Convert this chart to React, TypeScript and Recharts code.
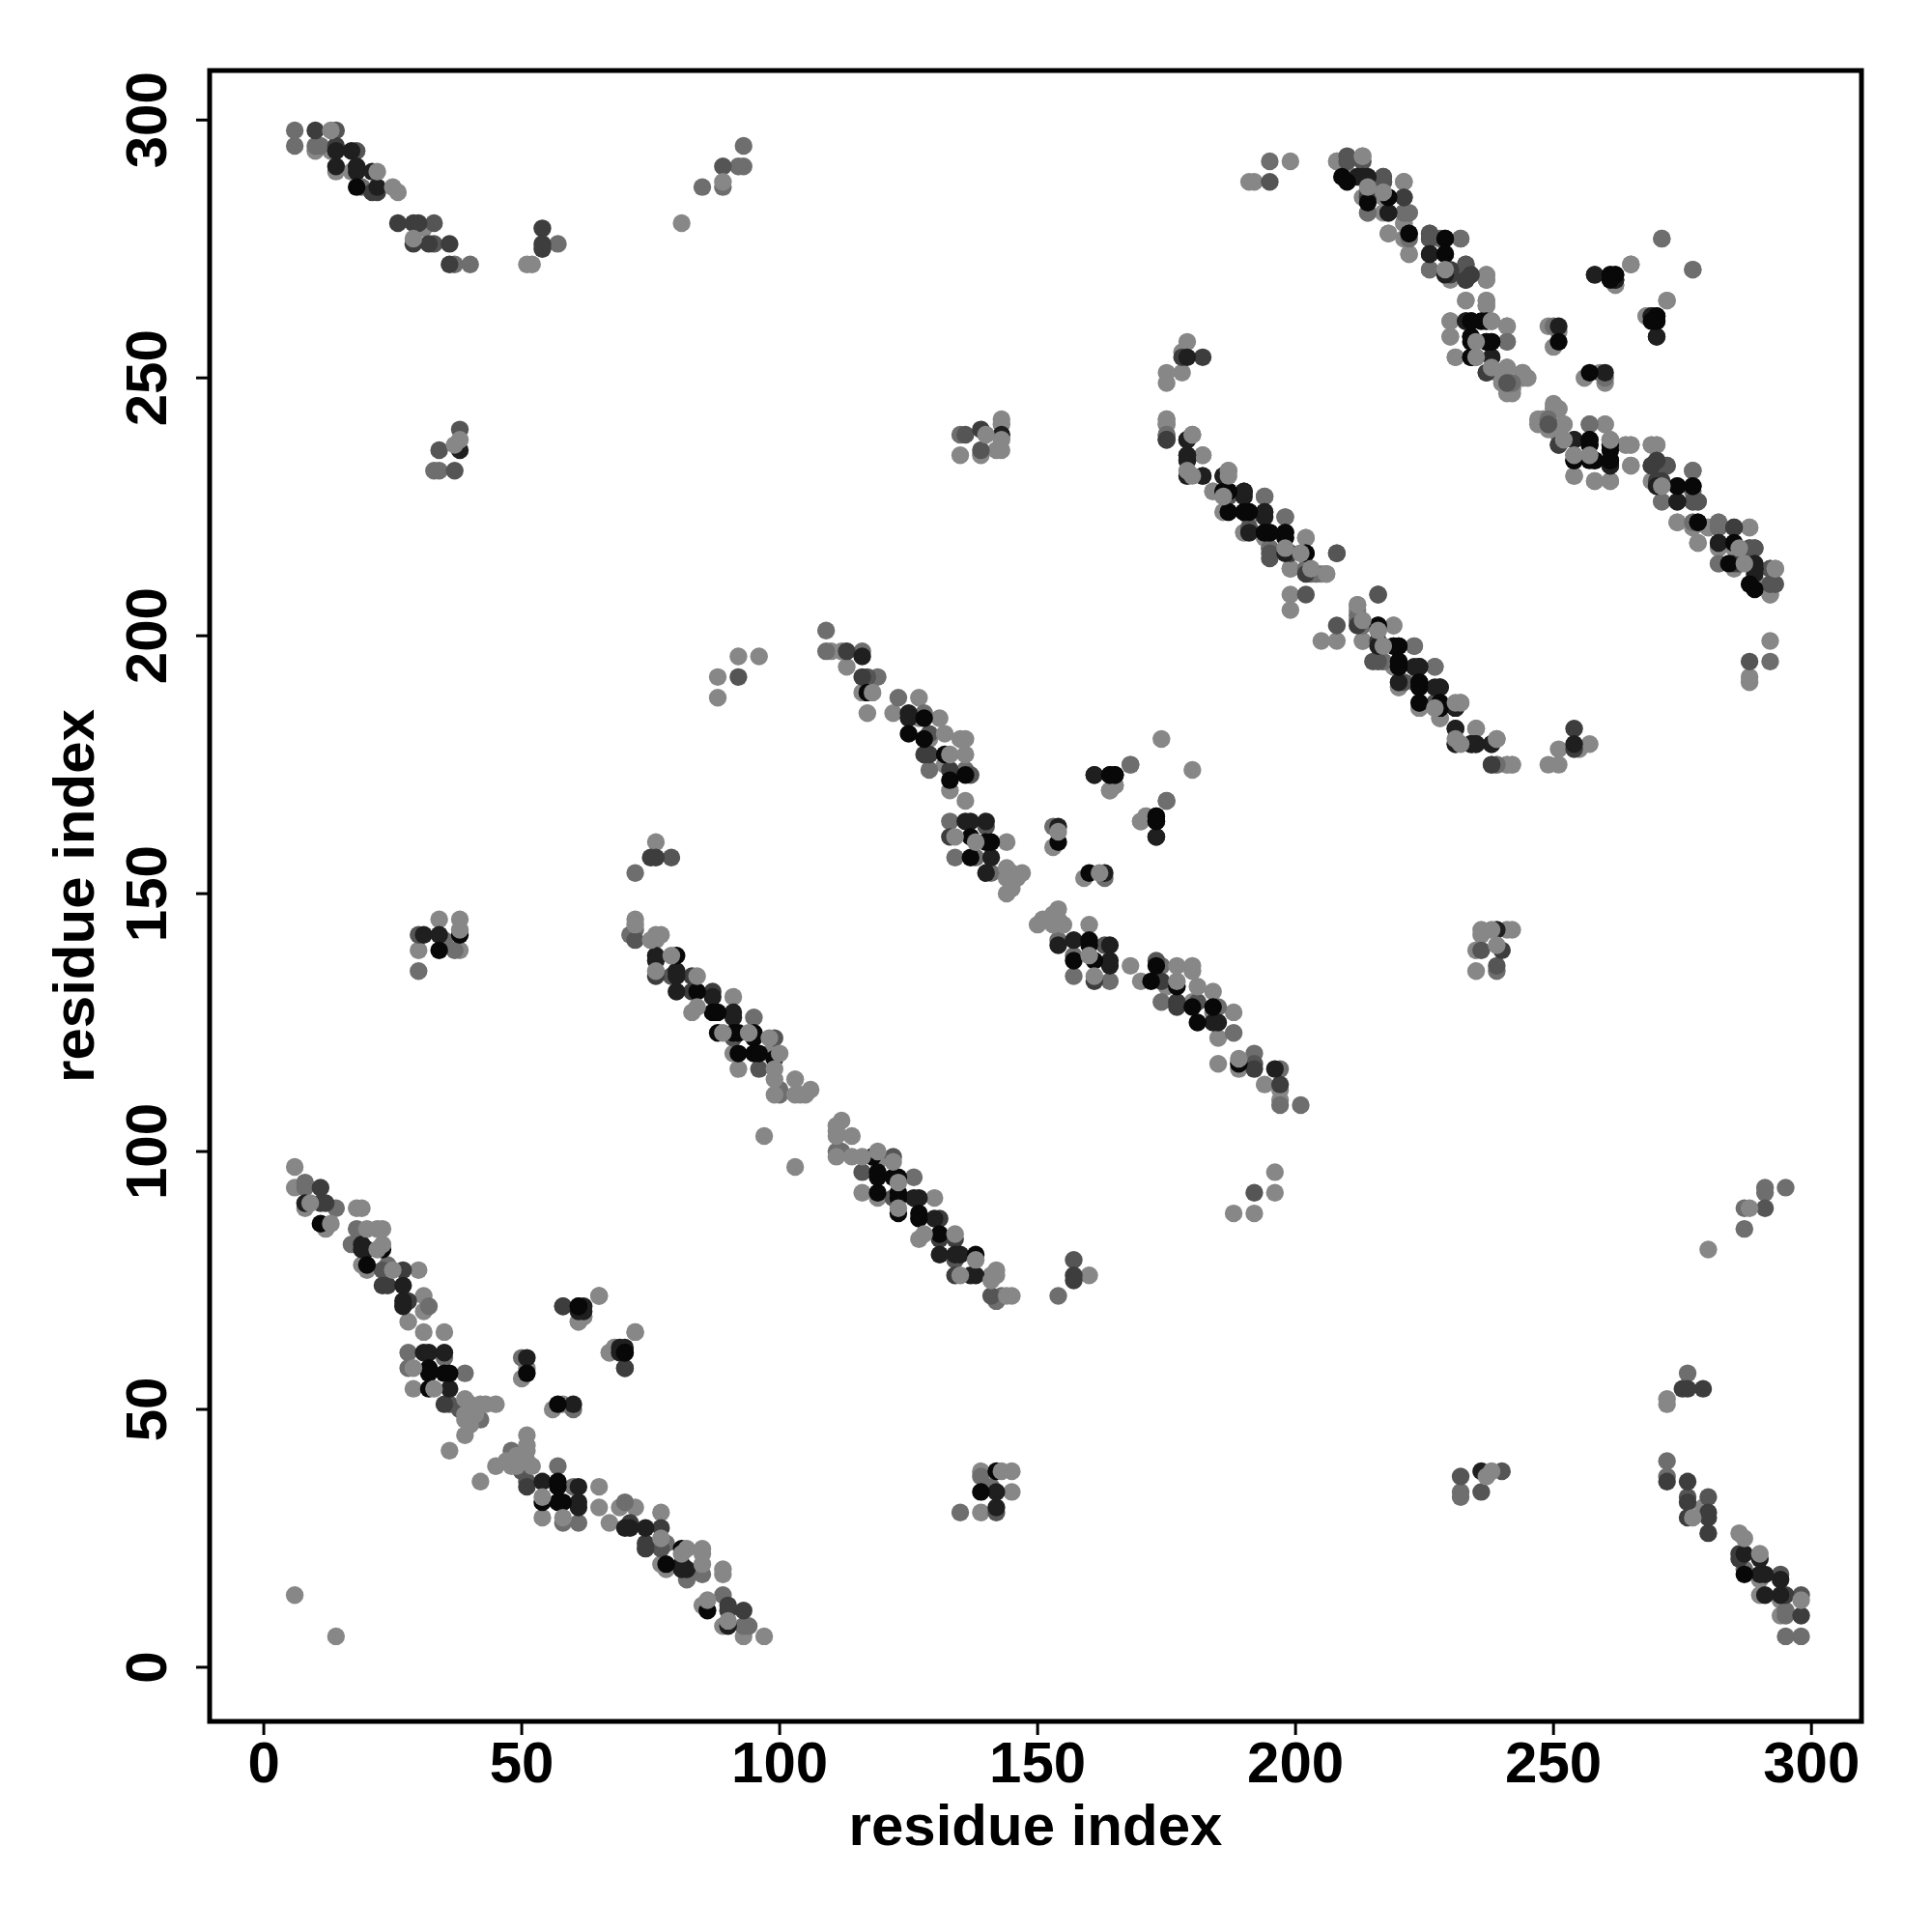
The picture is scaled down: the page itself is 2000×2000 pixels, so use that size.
import { ScatterChart, Scatter, XAxis, YAxis, ReferenceArea } from "recharts";

type Pair = [number, number];

const axisTicks = [0, 50, 100, 150, 200, 250, 300];

const lightUnder: Pair[] = [
  [6, 14], [6, 97], [6, 93], [8, 89], [12, 85], [19, 78], [20, 77], [18, 89], [19, 89], [22, 85], [23, 85],
  [31, 72], [31, 69], [28, 67], [31, 65], [35, 65], [29, 54], [30, 77], [61, 67], [62, 68], [65, 72], [72, 65], [67, 61], [68, 62],
  [50, 56], [51, 58], [91, 130], [92, 116], [91, 119], [98, 119], [83, 127], [10, 294], [13, 294], [14, 290], [17, 290],
  [31, 279], [51, 272], [52, 272], [81, 280], [34, 145], [38, 145], [30, 139], [38, 139], [76, 160], [76, 141],
  [92, 196], [96, 196], [88, 192], [88, 188], [110, 197], [112, 197], [113, 194], [116, 189], [117, 185], [127, 188],
  [122, 185], [127, 184], [131, 184], [129, 180], [132, 175], [133, 170], [136, 168], [144, 160], [174, 180], [165, 171],
  [164, 170], [171, 165], [170, 164], [153, 159], [179, 257], [178, 255], [178, 251], [175, 251], [175, 249], [175, 242],
  [175, 241], [182, 235], [184, 228], [194, 227], [186, 224], [191, 223], [190, 220], [202, 219], [198, 216], [201, 216],
  [199, 213], [212, 206], [212, 205], [205, 199], [208, 199], [213, 199], [219, 202], [219, 194], [220, 190], [224, 186],
  [228, 184], [232, 187], [235, 182], [241, 175], [242, 175], [208, 292], [210, 289], [211, 289], [221, 288], [213, 285],
  [217, 285], [214, 282], [217, 282], [221, 280], [218, 278], [221, 277], [222, 274], [237, 270], [237, 269], [233, 265],
  [237, 265], [237, 264], [230, 261], [241, 260], [230, 258], [231, 254], [241, 252], [244, 251], [240, 249], [241, 247],
  [242, 248], [245, 250], [230, 270], [262, 268], [277, 271], [265, 272], [272, 265], [268, 262], [249, 260], [251, 259],
  [250, 256], [251, 244], [250, 244], [247, 242], [248, 242], [252, 241], [251, 239], [260, 241], [265, 233], [264, 237],
  [265, 237], [269, 237], [270, 237], [254, 231], [258, 230], [261, 230], [269, 230], [274, 222], [277, 222], [280, 221],
  [288, 221], [278, 218], [288, 214], [292, 213], [289, 210], [292, 210], [292, 208], [199, 292], [191, 288], [192, 288],
  [135, 235], [139, 235], [142, 236], [143, 236], [143, 242], [143, 241],
];

const midGrey: Pair[] = [
  [8, 94], [8, 93], [14, 89], [18, 85], [17, 82], [24, 78], [32, 70], [28, 61], [28, 58], [39, 57], [35, 60], [42, 48],
  [72, 143], [71, 142], [72, 154], [95, 126], [100, 112], [100, 111], [109, 201], [109, 197], [116, 197], [119, 192],
  [123, 188], [128, 185], [129, 174], [136, 174], [133, 164], [134, 157], [138, 157], [141, 154], [6, 298], [6, 295], [10, 295],
  [11, 295], [19, 287], [37, 272], [40, 272], [57, 276], [85, 287], [89, 287], [92, 291], [93, 291], [93, 295], [168, 175],
  [175, 168], [153, 163], [33, 232], [34, 232], [35, 141], [37, 139], [30, 135], [135, 239], [195, 292], [175, 239], [198, 223],
  [195, 217], [202, 213], [203, 212], [204, 212], [217, 195], [223, 198], [227, 194], [239, 175], [221, 282], [222, 282],
  [222, 277], [226, 271], [228, 277], [232, 277], [233, 272], [241, 257], [241, 249], [242, 249], [250, 260], [257, 241],
  [254, 235], [277, 232], [271, 226], [282, 222], [282, 221], [282, 214], [271, 277], [50, 60],
];

const darkGrey: Pair[] = [
  [23, 77], [36, 51], [38, 240], [34, 236], [37, 232], [30, 142], [79, 157], [72, 141], [79, 134], [91, 122], [99, 122],
  [96, 116], [117, 192], [129, 181], [137, 173], [140, 163], [92, 192], [18, 294], [33, 280], [33, 276], [14, 298], [89, 291],
  [195, 288], [136, 239], [139, 236], [187, 227], [191, 220], [195, 215], [208, 216], [216, 208], [208, 202], [216, 195],
  [221, 191], [210, 292], [213, 292], [217, 289], [217, 288], [214, 286], [226, 278], [226, 277], [249, 241], [270, 233],
  [272, 233], [278, 226], [277, 226], [286, 214], [288, 217], [289, 217], [293, 210], [38, 50],
];

const nearBlack: Pair[] = [
  [11, 93], [11, 90], [12, 90], [27, 77], [23, 74], [24, 74], [28, 71], [35, 51], [58, 70], [70, 58], [10, 298], [14, 295],
  [21, 286], [22, 286], [26, 280], [29, 280], [30, 280], [29, 276], [32, 276], [36, 276], [36, 272], [54, 279], [54, 276],
  [54, 275], [75, 157], [76, 157], [76, 134], [83, 134], [83, 131], [87, 131], [113, 197], [116, 192], [128, 177], [129, 177],
  [133, 174], [133, 161], [178, 254], [182, 254], [175, 238], [199, 216], [212, 202], [221, 285], [233, 269], [234, 270],
  [230, 271], [237, 251], [238, 175], [254, 238], [251, 237], [269, 233], [270, 230], [285, 221], [285, 214], [139, 240],
  [179, 231],
];

const charcoal: Pair[] = [
  [8, 90], [19, 82], [20, 81], [19, 81], [27, 74], [27, 71], [27, 70], [31, 61], [32, 61], [35, 61], [36, 54], [62, 70],
  [62, 69], [69, 61], [51, 60], [14, 294], [14, 291], [17, 294], [18, 291], [18, 290], [21, 290], [22, 287], [31, 142],
  [34, 142], [38, 236], [76, 138], [76, 137], [80, 135], [80, 134], [80, 131], [87, 130], [91, 127], [91, 126], [116, 196],
  [125, 185], [125, 184], [140, 164], [136, 164], [137, 164], [141, 157], [140, 154], [161, 173], [164, 173], [165, 173],
  [173, 161], [154, 163], [179, 254], [179, 238], [179, 235], [179, 234], [182, 231], [186, 231], [186, 228], [190, 228],
  [190, 227], [190, 224], [194, 224], [194, 223], [216, 202], [216, 198], [224, 194], [220, 191], [224, 191], [224, 187],
  [228, 190], [231, 186], [231, 182], [231, 179], [234, 179], [235, 179], [238, 179], [213, 289], [212, 289], [214, 289],
  [218, 282], [226, 274], [229, 274], [229, 270], [233, 261], [238, 254], [258, 270], [261, 270], [262, 270], [262, 269],
  [269, 262], [270, 258], [251, 260], [261, 233], [277, 229], [274, 226], [278, 222], [282, 218], [285, 218], [289, 213],
  [143, 239],
];

const black: Pair[] = [
  [11, 86], [23, 81], [20, 78], [32, 58], [32, 57], [35, 57], [36, 57], [32, 54], [61, 70], [70, 61], [51, 57], [18, 287],
  [84, 131], [87, 127], [88, 127], [88, 123], [91, 123], [92, 123], [95, 123], [95, 122], [92, 119], [95, 119], [96, 119],
  [99, 118], [80, 138], [117, 189], [125, 181], [128, 180], [128, 184], [132, 177], [133, 172], [136, 173], [137, 161],
  [140, 160], [141, 160], [137, 157], [154, 160], [173, 165], [173, 164], [187, 228], [187, 224], [191, 224], [194, 220],
  [195, 220], [198, 220], [198, 219], [202, 216], [219, 198], [220, 198], [220, 195], [220, 194], [224, 190], [228, 187],
  [228, 186], [210, 288], [214, 284], [218, 285], [222, 278], [229, 277], [234, 261], [237, 261], [234, 258], [237, 257],
  [238, 257], [234, 254], [270, 262], [270, 261], [269, 261], [251, 257], [257, 238], [257, 237], [254, 234], [257, 234],
  [258, 234], [261, 234], [261, 236], [274, 229], [289, 209], [34, 139], [38, 142],
];

const lightOver: Pair[] = [
  [9, 90], [13, 86], [20, 85], [23, 82], [22, 81], [25, 77], [29, 58], [33, 54], [39, 52], [40, 51], [42, 51], [43, 51], [45, 51],
  [39, 49], [41, 49], [40, 47], [39, 48], [39, 45], [36, 42], [84, 134], [76, 135], [79, 138], [76, 142], [77, 142], [75, 141],
  [72, 145], [72, 144], [84, 128], [89, 123], [94, 123], [98, 122], [100, 119], [106, 112], [105, 111], [104, 111], [103, 111],
  [103, 114], [99, 111], [99, 114], [99, 116], [97, 103], [13, 298], [22, 290], [25, 287], [26, 286], [29, 277], [89, 288],
  [38, 238], [37, 237], [38, 143], [118, 189], [132, 181], [135, 180], [136, 180], [133, 177], [136, 177], [134, 161], [138, 160],
  [144, 155], [145, 154], [147, 154], [146, 153], [144, 153], [145, 151], [144, 150], [154, 162], [180, 239], [180, 231],
  [187, 232], [187, 231], [206, 212], [213, 203], [216, 201], [217, 198], [227, 186], [232, 179], [239, 180], [213, 293],
  [214, 287], [238, 261], [235, 257], [235, 254], [252, 238], [261, 238], [271, 229], [286, 217], [293, 213], [140, 239], [143, 238],
];

const mirrored = (pairs: Pair[]) => pairs.flatMap(([i, j]) => [{ i, j }, { i: j, j: i }]);

const layers: { pairs: Pair[]; fill: string }[] = [
  { pairs: lightUnder, fill: "#878787" },
  { pairs: midGrey, fill: "#6e6e6e" },
  { pairs: darkGrey, fill: "#555555" },
  { pairs: nearBlack, fill: "#3d3d3d" },
  { pairs: charcoal, fill: "#1f1f1f" },
  { pairs: black, fill: "#080808" },
  { pairs: lightOver, fill: "#878787" },
];

const FONT = "'Liberation Sans', Arial, sans-serif";
const FONT_SIZE = 60;
const DOT_RADIUS = 9.2;

const XTick = ({ x, y, payload }: any) => (
  <text x={x} y={y + 47} textAnchor="middle" fontFamily={FONT} fontWeight={700} fontSize={FONT_SIZE} fill="#000">
    {payload.value}
  </text>
);

const YTick = ({ x, y, payload }: any) => (
  <text
    x={x}
    y={y}
    dy={-29}
    textAnchor="middle"
    transform={`rotate(-90 ${x} ${y})`}
    fontFamily={FONT}
    fontWeight={700}
    fontSize={FONT_SIZE}
    fill="#000"
  >
    {payload.value}
  </text>
);

const Dot = ({ cx, cy, fill }: any) => <circle cx={cx} cy={cy} r={DOT_RADIUS} fill={fill} />;

const App = () => {
  return (
    <div style={{ position: "absolute", left: 0, top: 0, background: "#fff" }}>
      <ScatterChart width={2000} height={2000} margin={{ top: 73, right: 73, bottom: 0, left: 0 }}>
        <XAxis
          type="number"
          dataKey="i"
          domain={[-10.5, 309.7]}
          ticks={axisTicks}
          allowDataOverflow
          height={218}
          axisLine={false}
          tickSize={14}
          tickLine={{ stroke: "#000", strokeWidth: 3 }}
          tick={<XTick />}
          label={{
            value: "residue index",
            position: "insideBottom",
            offset: 90,
            fontFamily: FONT,
            fontWeight: 700,
            fontSize: FONT_SIZE,
            fill: "#000",
          }}
        />
        <YAxis
          type="number"
          dataKey="j"
          domain={[-10.5, 309.6]}
          ticks={axisTicks}
          allowDataOverflow
          width={217}
          axisLine={false}
          tickSize={14}
          tickLine={{ stroke: "#000", strokeWidth: 3 }}
          tick={<YTick />}
          label={{
            value: "residue index",
            angle: -90,
            position: "insideLeft",
            offset: 76,
            fontFamily: FONT,
            fontWeight: 700,
            fontSize: FONT_SIZE,
            fill: "#000",
            style: { textAnchor: "middle" },
          }}
        />
        {layers.map((layer, idx) => (
          <Scatter key={idx} data={mirrored(layer.pairs)} fill={layer.fill} shape={<Dot />} isAnimationActive={false} />
        ))}
        <ReferenceArea
          x1={-10.5}
          x2={309.7}
          y1={-10.5}
          y2={309.6}
          fill="none"
          stroke="#000"
          strokeWidth={5}
          ifOverflow="visible"
        />
      </ScatterChart>
    </div>
  );
};

export default App;
